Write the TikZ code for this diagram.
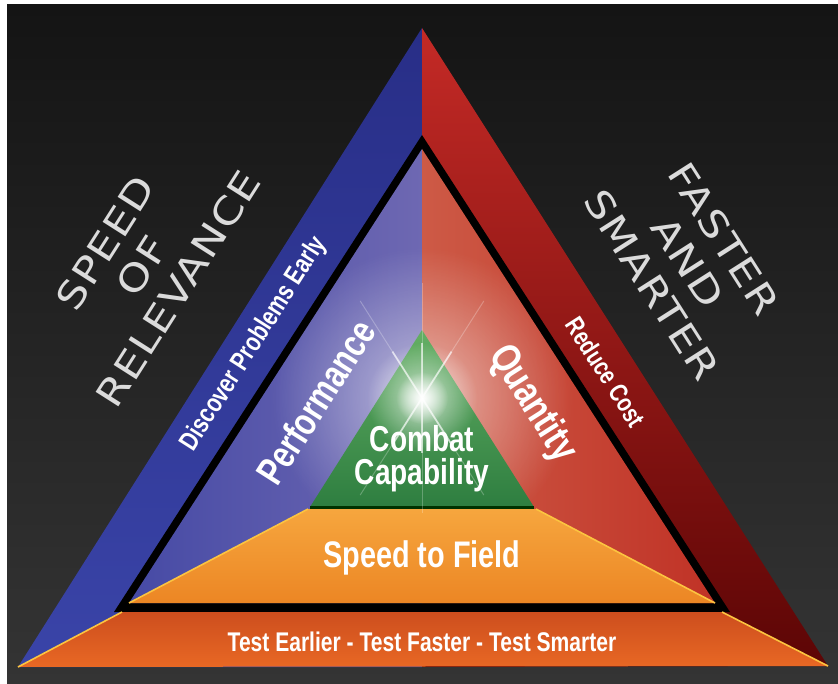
\documentclass[tikz,border=0pt]{standalone}
\usepackage{fontspec}
\usetikzlibrary{calc,fadings}
\newfontfamily\capfont{Liberation Sans}[FakeStretch=0.78]
\newfontfamily\slimfont{DejaVu Sans}[FakeStretch=1.2,LetterSpace=3]
\tikzfading[name=glowfade, inner color=transparent!0, outer color=transparent!100]
\definecolor{bgtop}{RGB}{20,20,20}
\definecolor{bgbot}{RGB}{52,52,52}
\definecolor{navy}{RGB}{40,46,135}
\definecolor{navylt}{RGB}{58,68,168}
\definecolor{redtop}{RGB}{196,42,38}
\definecolor{redbot}{RGB}{92,5,5}
\definecolor{iblue}{RGB}{70,74,165}
\definecolor{ibluelt}{RGB}{110,104,178}
\definecolor{ired}{RGB}{192,50,38}
\definecolor{iredlt}{RGB}{205,90,70}
\definecolor{bandor}{RGB}{232,104,36}
\definecolor{bandordk}{RGB}{205,78,30}
\definecolor{fieldor}{RGB}{246,166,62}
\definecolor{fieldordk}{RGB}{236,134,36}
\definecolor{edgeyel}{RGB}{252,196,64}
\definecolor{grntop}{RGB}{100,175,100}
\definecolor{grnbot}{RGB}{46,126,64}

\begin{document}
\begin{tikzpicture}[x=1pt, y=-1pt,
  lbl/.style 2 args={text=white, inner sep=0pt, align=center,
    font=\capfont\bfseries\fontsize{#1}{#2}\selectfont},
  slogan/.style={text=white!86!black, inner sep=0pt, align=center,
    font=\slimfont\fontsize{37}{43}\selectfont},
  yeledge/.style={edgeyel, line width=1.6pt}]
  \useasboundingbox (0,0) rectangle (838,684);
  % backdrop
  \shade[top color=bgtop, bottom color=bgbot] (7,5) rectangle (838,684);

  % corner points
  \coordinate (oA) at (422,28);
  \coordinate (oL) at (18,667);
  \coordinate (oR) at (828,666);
  \coordinate (oM) at (422,667);
  \coordinate (kA) at (422,135);
  \coordinate (kL) at (114,612);
  \coordinate (kR) at (730,612);
  \coordinate (iA) at (422,149);
  \coordinate (iL) at (129,603);
  \coordinate (iR) at (715,603);
  \coordinate (iM) at (422,603);
  \coordinate (bL) at (122,612);
  \coordinate (bR) at (722,612);
  \coordinate (fL) at (308,509);
  \coordinate (fR) at (536,509);
  \coordinate (gA) at (422,330);
  \coordinate (gL) at (310,507);
  \coordinate (gR) at (534,507);
  \coordinate (glow) at (422,398);

  % outer frame, blue and red halves
  \shade[top color=navy, bottom color=navylt] (oA) -- (oL) -- (oM) -- cycle;
  \shade[top color=redtop, bottom color=redbot] (oA) -- (oR) -- (oM) -- cycle;
  \fill[black] (kA) -- (kL) -- (kR) -- cycle;

  % bottom band
  \shade[top color=bandordk, bottom color=bandor] (oL) -- (bL) -- (bR) -- (oR) -- cycle;
  \draw[yeledge] (oL) -- (bL);
  \draw[yeledge] (oR) -- (bR);

  % inner triangle
  \shade[left color=iblue, right color=ibluelt] (iA) -- (iL) -- (iM) -- cycle;
  \shade[left color=iredlt, right color=ired] (iA) -- (iR) -- (iM) -- cycle;
  \begin{scope}
    \clip (iA) -- (iL) -- (iR) -- cycle;
    \fill[white, fill opacity=0.55, path fading=glowfade] (glow) circle (150);
  \end{scope}

  % speed to field
  \shade[top color=fieldor, bottom color=fieldordk] (iL) -- (fL) -- (fR) -- (iR) -- cycle;
  \draw[yeledge] (iL) -- (fL);
  \draw[yeledge] (iR) -- (fR);

  % combat capability
  \shade[top color=grntop, bottom color=grnbot] (gA) -- (gL) -- (gR) -- cycle;
  \draw[black!80!green, line width=3pt] (gL) -- (gR);

  % star
  \foreach \a in {90,57.5,-57.5} {
    \draw[white, opacity=0.25, line width=1pt] ($(glow)+(\a:-115)$) -- ($(glow)+(\a:115)$);
    \draw[white, opacity=0.6, line width=1.8pt] ($(glow)+(\a:-55)$) -- ($(glow)+(\a:55)$);
  }
  \fill[white, fill opacity=0.7, path fading=glowfade] (glow) circle (55);
  \fill[white, path fading=glowfade] (glow) circle (26);

  % labels
  \node[slogan, rotate=57.5] (relevance) at (142,266) {SPEED\\OF\\RELEVANCE};
  \node[slogan, rotate=-57.5] (smarter) at (688,262) {FASTER\\AND\\SMARTER};
  \node[lbl={27}{30}, rotate=57.5] (discover) at (254,344) {Discover Problems Early};
  \node[lbl={26}{30}, rotate=-57.5] (cost) at (606,372) {Reduce Cost};
  \node[lbl={39}{40}, rotate=57.5] (perf) at (316,402) {Performance};
  \node[lbl={41}{40}, rotate=-57.5] (qty) at (532,404) {Quantity};
  \node[lbl={36}{33}] (combat) at (422,459) {Combat\\Capability};
  \node[lbl={37}{40}] (field) at (422,558) {Speed to Field};
  \node[lbl={27}{30}] (testing) at (422,642) {Test Earlier - Test Faster - Test Smarter};
\end{tikzpicture}
\end{document}
